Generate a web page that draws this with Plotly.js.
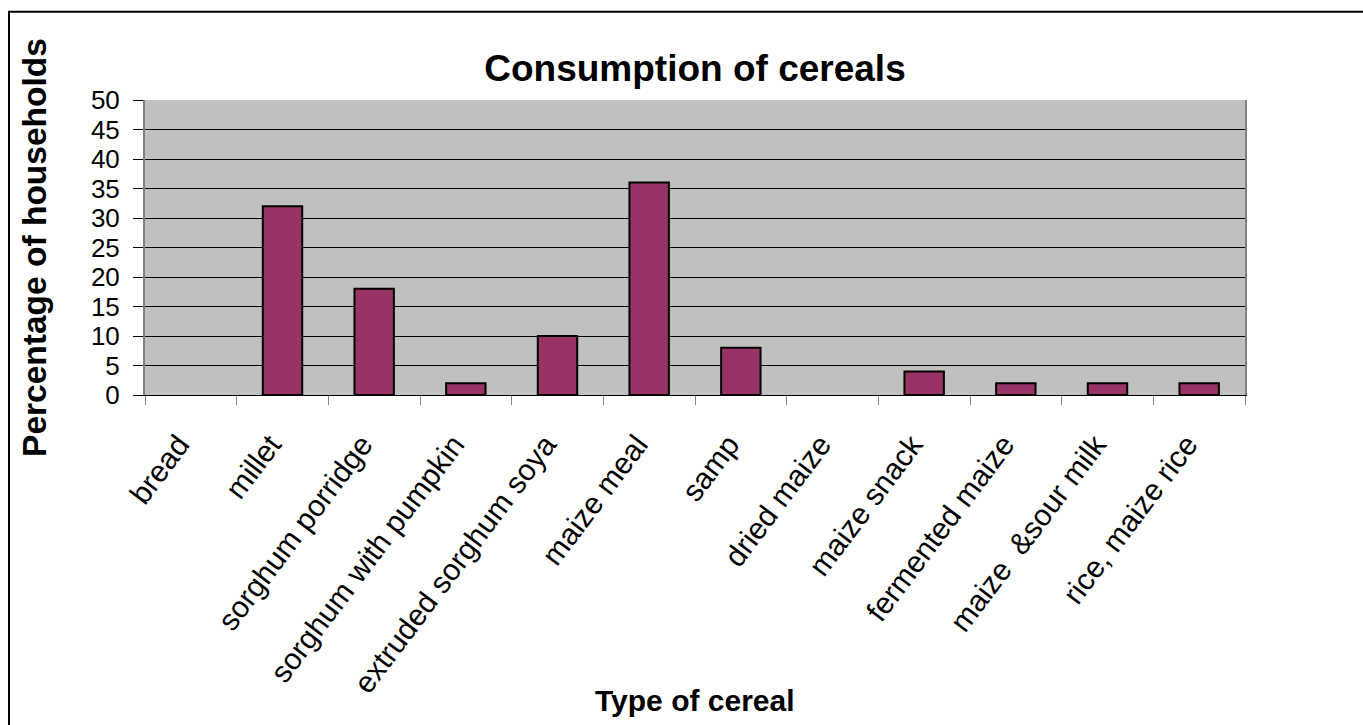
<!DOCTYPE html>
<html>
<head>
<meta charset="utf-8">
<script src="https://cdn.plot.ly/plotly-3.0.1.min.js"></script>
<style>html,body{margin:0;padding:0;background:#fff;}#chart{width:1363px;height:725px;}</style>
</head>
<body>
<div id="chart"></div>
<script>
const categories = ["bread", "millet", "sorghum porridge", "sorghum with pumpkin", "extruded sorghum soya", "maize meal", "samp", "dried maize", "maize snack", "fermented maize", "maize  &sour milk", "rice, maize rice"];
const percentages = [0, 32, 18, 2, 10, 36, 8, 0, 4, 2, 2, 2];
const yTicks = [0, 5, 10, 15, 20, 25, 30, 35, 40, 45, 50];
const chartTitle = "Consumption of cereals";
const xTitle = "Type of cereal";
const yTitle = "Percentage of households";

const FONT = "Liberation Sans, Arial, sans-serif";

const trace = {
  type: "bar",
  x: categories,
  y: percentages,
  marker: {
    color: "#993366",
    line: { color: "#000000", width: percentages.map(v => v > 0 ? 2 : 0) }
  },
  hoverinfo: "x+y"
};

const layout = {
  width: 1363,
  height: 725,
  margin: { l: 145, r: 118, t: 99.5, b: 330, pad: 0 },
  paper_bgcolor: "#ffffff",
  plot_bgcolor: "#C0C0C0",
  bargap: 0.57,
  showlegend: false,
  font: { family: FONT, color: "#000000" },
  title: {
    text: "<b>" + chartTitle + "</b>",
    font: { family: FONT, size: 37, color: "#000000" },
    x: 0.5, xref: "paper", xanchor: "center",
    y: 1 - 68 / 725, yref: "container", yanchor: "middle"
  },
  xaxis: {
    type: "category",
    tickangle: -53,
    tickfont: { family: FONT, size: 30, color: "#000000" },
    ticks: "outside",
    tickson: "boundaries",
    ticklen: 9,
    tickcolor: "#808080",
    tickwidth: 1,
    ticklabelstandoff: 19,
    ticklabelshift: -12,
    showline: true,
    linecolor: "#000000",
    linewidth: 1,
    showgrid: false,
    automargin: false
  },
  yaxis: {
    range: [0, 50],
    tickvals: yTicks,
    ticktext: yTicks.map(String),
    tickfont: { family: FONT, size: 26, color: "#000000" },
    ticks: "outside",
    ticklen: 10,
    tickcolor: "#000000",
    tickwidth: 1,
    ticklabelstandoff: 8,
    showline: true,
    linecolor: "#808080",
    linewidth: 2,
    mirror: true,
    showgrid: true,
    gridcolor: "#000000",
    gridwidth: 1,
    zeroline: true,
    zerolinecolor: "#000000",
    zerolinewidth: 1,
    automargin: false,
    title: {
      text: "<b>" + yTitle + "</b>",
      font: { family: FONT, size: 33.5, color: "#000000" },
      standoff: 34
    }
  },
  annotations: [{
    text: "<b>" + xTitle + "</b>",
    xref: "paper", yref: "paper",
    x: 0.5, y: -(701 - 395) / 295.5,
    xanchor: "center", yanchor: "middle",
    showarrow: false,
    font: { family: FONT, size: 30, color: "#000000" }
  }],
  shapes: [{
    type: "rect", xref: "paper", yref: "paper",
    x0: (9 - 145) / 1100, x1: 1.3,
    y0: -1.5, y1: (395 - 11) / 295.5,
    line: { color: "#000000", width: 2 },
    fillcolor: "rgba(0,0,0,0)",
    layer: "above"
  }]
};

Plotly.newPlot("chart", [trace], layout, { displayModeBar: false, staticPlot: true });
</script>
</body>
</html>
